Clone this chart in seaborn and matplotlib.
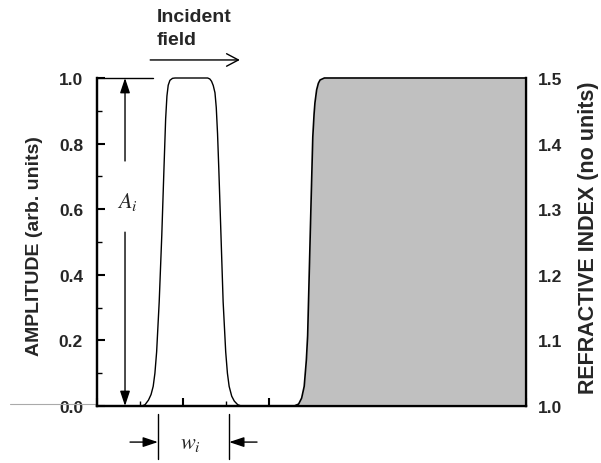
import matplotlib
matplotlib.use('Agg')
import matplotlib.pyplot as plt
import seaborn as sns
from matplotlib.ticker import MultipleLocator

# ---- data ----
pulse_x = [0.0, 1.05, 1.12, 1.20, 1.26, 1.31, 1.35, 1.39, 1.45, 1.51, 1.56, 1.60,
           1.63, 1.66, 1.70, 1.76, 1.82, 2.20, 2.58, 2.63, 2.67, 2.71, 2.75, 2.78,
           2.81, 2.84, 2.89, 2.94, 3.00, 3.04, 3.08, 3.14, 3.20, 3.28, 3.36]
pulse_amp = [0.0, 0.0, 0.004, 0.018, 0.035, 0.06, 0.10, 0.165, 0.318, 0.52, 0.72, 0.875,
             0.945, 0.978, 0.993, 0.999, 1.0, 1.0, 1.0, 0.997, 0.99, 0.977, 0.955, 0.91,
             0.83, 0.72, 0.52, 0.318, 0.165, 0.10, 0.06, 0.03, 0.015, 0.004, 0.0]
step_x = [4.60, 4.70, 4.77, 4.83, 4.88, 4.91, 4.95, 4.99, 5.03, 5.06, 5.08, 5.12,
          5.16, 5.20, 5.30, 10.0]
step_n = [1.0, 1.003, 1.012, 1.03, 1.07, 1.107, 1.209, 1.311, 1.41, 1.445, 1.462, 1.482,
          1.492, 1.497, 1.5, 1.5]
left_ticks = [0.0, 0.2, 0.4, 0.6, 0.8, 1.0]
right_ticks = [1.0, 1.1, 1.2, 1.3, 1.4, 1.5]

sns.set_style('ticks')
plt.rcParams['font.family'] = ['Liberation Sans', 'DejaVu Sans']
plt.rcParams['mathtext.fontset'] = 'stix'

fig = plt.figure(figsize=(6.01, 4.64), dpi=100)
ax = fig.add_axes([97 / 601, 57 / 464, 429 / 601, 328 / 464])
ax2 = ax.twinx()

sns.lineplot(x=pulse_x, y=pulse_amp, ax=ax, color='black', linewidth=1.0,
             sort=False, estimator=None)
ax2.fill_between(step_x, 1.0, step_n, color='#c0c0c0', linewidth=0, zorder=1)
sns.lineplot(x=step_x, y=step_n, ax=ax2, color='black', linewidth=1.2,
             sort=False, estimator=None, zorder=2)
for ln in ax.lines + ax2.lines:
    ln.set_clip_on(False)

ax.set_xlim(0, 10)
ax.set_ylim(0, 1.0)
ax2.set_ylim(1.0, 1.5)

for a in (ax, ax2):
    a.spines['top'].set_visible(False)
    for s in ('left', 'right', 'bottom'):
        a.spines[s].set_linewidth(1.6)
        a.spines[s].set_color('black')

ax.xaxis.set_major_locator(MultipleLocator(2))
ax.xaxis.set_minor_locator(MultipleLocator(1))
ax.yaxis.set_minor_locator(MultipleLocator(0.1))
ax.set_yticks(left_ticks)
ax.set_yticklabels([f'{t:.1f}' for t in left_ticks], fontweight='bold')
ax.tick_params(axis='both', which='major', direction='in', length=6, width=1.5,
               labelsize=12.5, pad=10, color='black')
ax.tick_params(axis='both', which='minor', direction='in', length=3.5, width=1.0,
               color='black')
ax.tick_params(axis='x', which='both', labelbottom=False)

ax2.set_yticks(right_ticks)
ax2.set_yticklabels([f'{t:.1f}' for t in right_ticks], fontweight='bold')
ax2.tick_params(axis='y', which='both', length=0, pad=8.5, labelsize=12.5)

ax.set_xlabel('')
ax.set_ylabel('AMPLITUDE (arb. units)', fontsize=14, fontweight='bold')
ax.yaxis.set_label_coords(-0.126, 0.49)
ax2.set_ylabel('REFRACTIVE INDEX (no units)', fontsize=15.5, fontweight='bold')
ax2.yaxis.set_label_coords(1.121, 0.515)

# ---- annotations ----
ax.text(1.40, 1.212, 'Incident\nfield', fontsize=14, fontweight='bold',
        ha='left', va='top', linespacing=1.45)
ax.annotate('', xy=(3.33, 1.055), xytext=(1.24, 1.055), annotation_clip=False,
            arrowprops=dict(arrowstyle='->,head_length=0.85,head_width=0.45',
                            lw=1.0, color='black', shrinkA=0, shrinkB=0))
ax.plot([0, 1.305], [1.0, 1.0], color='black', lw=1.0, clip_on=False)
ax.plot([-2.03, 0], [0.006, 0.006], color='#aaaaaa', lw=0.8, clip_on=False)

head = '-|>,head_length=0.9,head_width=0.3'
ax.annotate('', xy=(0.653, 1.0), xytext=(0.653, 0.747), annotation_clip=False,
            arrowprops=dict(arrowstyle=head, lw=1.0, color='black',
                            shrinkA=0, shrinkB=0))
ax.annotate('', xy=(0.653, 0.0), xytext=(0.653, 0.53), annotation_clip=False,
            arrowprops=dict(arrowstyle=head, lw=1.0, color='black',
                            shrinkA=0, shrinkB=0))
ax.text(0.70, 0.625, r'$A_i$', fontsize=16, ha='center', va='center')

for xv in (1.42, 3.08):
    ax.plot([xv, xv], [-0.024, -0.162], color='black', lw=1.0, clip_on=False)
ax.annotate('', xy=(1.42, -0.11), xytext=(0.77, -0.11), annotation_clip=False,
            arrowprops=dict(arrowstyle=head, lw=1.0, color='black',
                            shrinkA=0, shrinkB=0))
ax.annotate('', xy=(3.08, -0.11), xytext=(3.73, -0.11), annotation_clip=False,
            arrowprops=dict(arrowstyle=head, lw=1.0, color='black',
                            shrinkA=0, shrinkB=0))
ax.text(2.17, -0.11, r'$w_i$', fontsize=16, ha='center', va='center')

fig.savefig('out.png', dpi=100)
